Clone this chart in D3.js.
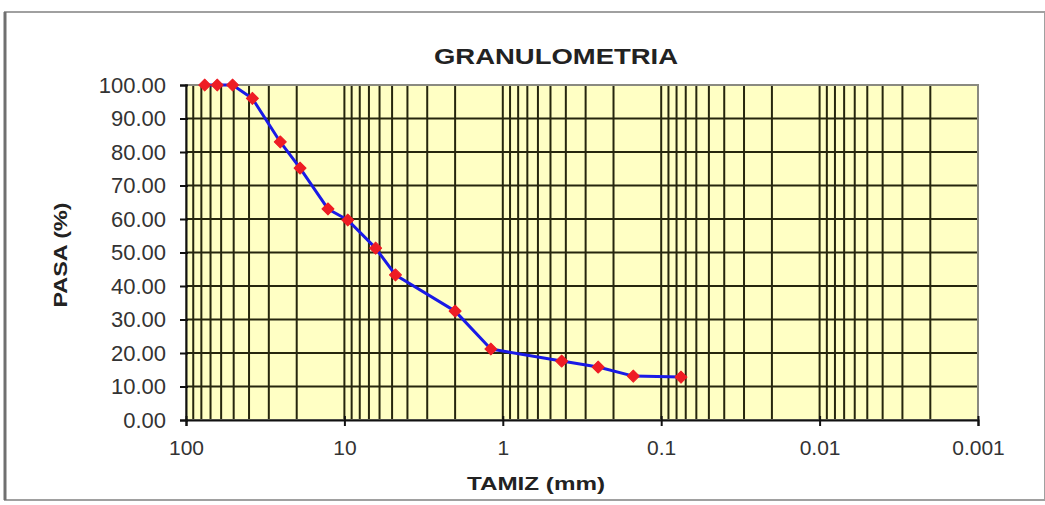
<!DOCTYPE html>
<html>
<head>
<meta charset="utf-8">
<script src="https://cdn.jsdelivr.net/npm/d3@7"></script>
<style>
  html, body { margin: 0; padding: 0; background: #ffffff; }
  svg { display: block; font-family: "Liberation Sans", Arial, sans-serif; }
</style>
</head>
<body>
<svg id="chart" width="1045" height="505"></svg>
<script>
// Sieve openings (mm) and percentage passing
const tamiz = [76.2, 63.5, 50.8, 38.1, 25.4, 19.05, 12.7, 9.525, 6.35, 4.76, 2.0, 1.19, 0.425, 0.25, 0.15, 0.075];
const pasa  = [100, 100, 100, 96.0, 83.0, 75.2, 63.0, 59.7, 51.3, 43.3, 32.5, 21.2, 17.6, 15.8, 13.1, 12.8];

const xTickValues = [100, 10, 1, 0.1, 0.01, 0.001];
const xTickLabels = ["100", "10", "1", "0.1", "0.01", "0.001"];
const yTickValues = [0, 10, 20, 30, 40, 50, 60, 70, 80, 90, 100];

const titleText = "GRANULOMETRIA";
const xTitle = "TAMIZ (mm)";
const yTitle = "PASA (%)";

const svg = d3.select("#chart");

const plotL = 186, plotR = 978, plotT = 85, plotB = 420;

const x = d3.scaleLog().domain([100, 0.001]).range([plotL, plotR]);
const y = d3.scaleLinear().domain([0, 100]).range([plotB, plotT]);

// outer frame of the chart area
svg.append("rect")
  .attr("x", 5).attr("y", 12).attr("width", 1040).attr("height", 488)
  .attr("fill", "#ffffff").attr("stroke", "#a0a0a0").attr("stroke-width", 2);
svg.append("line")
  .attr("x1", 5).attr("x2", 5).attr("y1", 12).attr("y2", 500)
  .attr("stroke", "#707070").attr("stroke-width", 3);

// plot background
svg.append("rect")
  .attr("x", plotL).attr("y", plotT).attr("width", plotR - plotL).attr("height", plotB - plotT)
  .attr("fill", "#ffffc4");

// vertical grid: every 1..9 step of each decade
const minor = [];
for (let e = -3; e <= 1; e++) {
  for (let k = 1; k <= 9; k++) minor.push(k * Math.pow(10, e));
}
minor.push(100);
svg.append("g")
  .selectAll("line").data(minor).join("line")
  .attr("x1", d => x(d)).attr("x2", d => x(d))
  .attr("y1", plotT).attr("y2", plotB)
  .attr("stroke", "#26260e").attr("stroke-width", 2);

// horizontal grid
svg.append("g")
  .selectAll("line").data(yTickValues).join("line")
  .attr("x1", plotL).attr("x2", plotR)
  .attr("y1", d => y(d)).attr("y2", d => y(d))
  .attr("stroke", "#26260e").attr("stroke-width", 2);

// plot border
svg.append("rect")
  .attr("x", plotL).attr("y", plotT).attr("width", plotR - plotL).attr("height", plotB - plotT)
  .attr("fill", "none").attr("stroke", "#8a8a80").attr("stroke-width", 2);

// axes
const xAxis = d3.axisBottom(x)
  .tickValues(xTickValues)
  .tickFormat((d, i) => xTickLabels[i])
  .tickSize(6).tickPadding(14);
const gx = svg.append("g").attr("transform", `translate(0,${plotB})`).call(xAxis);
gx.select(".domain").attr("stroke", "#111").attr("stroke-width", 2);
gx.selectAll(".tick line").attr("stroke", "#111").attr("stroke-width", 2).attr("y1", -4);
gx.selectAll(".tick text").attr("font-size", 21).attr("fill", "#333")
  .attr("font-family", "'Liberation Sans', Arial, sans-serif");

const yAxis = d3.axisLeft(y)
  .tickValues(yTickValues)
  .tickFormat(d3.format(".2f"))
  .tickSize(6).tickPadding(14);
const gy = svg.append("g").attr("transform", `translate(${plotL},0)`).call(yAxis);
gy.select(".domain").attr("stroke", "#111").attr("stroke-width", 2);
gy.selectAll(".tick line").attr("stroke", "#111").attr("stroke-width", 2).attr("x1", 2);
gy.selectAll(".tick text").attr("font-size", 22).attr("fill", "#333")
  .attr("font-family", "'Liberation Sans', Arial, sans-serif");

// grading curve
const pts = tamiz.map((d, i) => [d, pasa[i]]);
svg.append("path")
  .datum(pts)
  .attr("fill", "none")
  .attr("stroke", "#1a1ae6")
  .attr("stroke-width", 3)
  .attr("stroke-linejoin", "round")
  .attr("d", d3.line().x(d => x(d[0])).y(d => y(d[1])));

svg.append("g")
  .selectAll("path").data(pts).join("path")
  .attr("transform", d => `translate(${x(d[0])},${y(d[1])}) rotate(45)`)
  .attr("d", d3.symbol().type(d3.symbolSquare).size(72))
  .attr("fill", "#ee1c24")
  .attr("stroke", "#ee1c24").attr("stroke-width", 1).attr("stroke-linejoin", "round");

// titles
svg.append("text")
  .attr("x", 556).attr("y", 64)
  .attr("text-anchor", "middle")
  .attr("font-size", 22).attr("font-weight", "bold").attr("fill", "#222")
  .attr("textLength", 244).attr("lengthAdjust", "spacingAndGlyphs")
  .text(titleText);

svg.append("text")
  .attr("x", 536).attr("y", 490)
  .attr("text-anchor", "middle")
  .attr("font-size", 18).attr("font-weight", "bold").attr("fill", "#222")
  .attr("textLength", 138).attr("lengthAdjust", "spacingAndGlyphs")
  .text(xTitle);

svg.append("text")
  .attr("transform", "translate(67,255) rotate(-90)")
  .attr("text-anchor", "middle")
  .attr("font-size", 18).attr("font-weight", "bold").attr("fill", "#222")
  .attr("textLength", 105).attr("lengthAdjust", "spacingAndGlyphs")
  .text(yTitle);
</script>
</body>
</html>
